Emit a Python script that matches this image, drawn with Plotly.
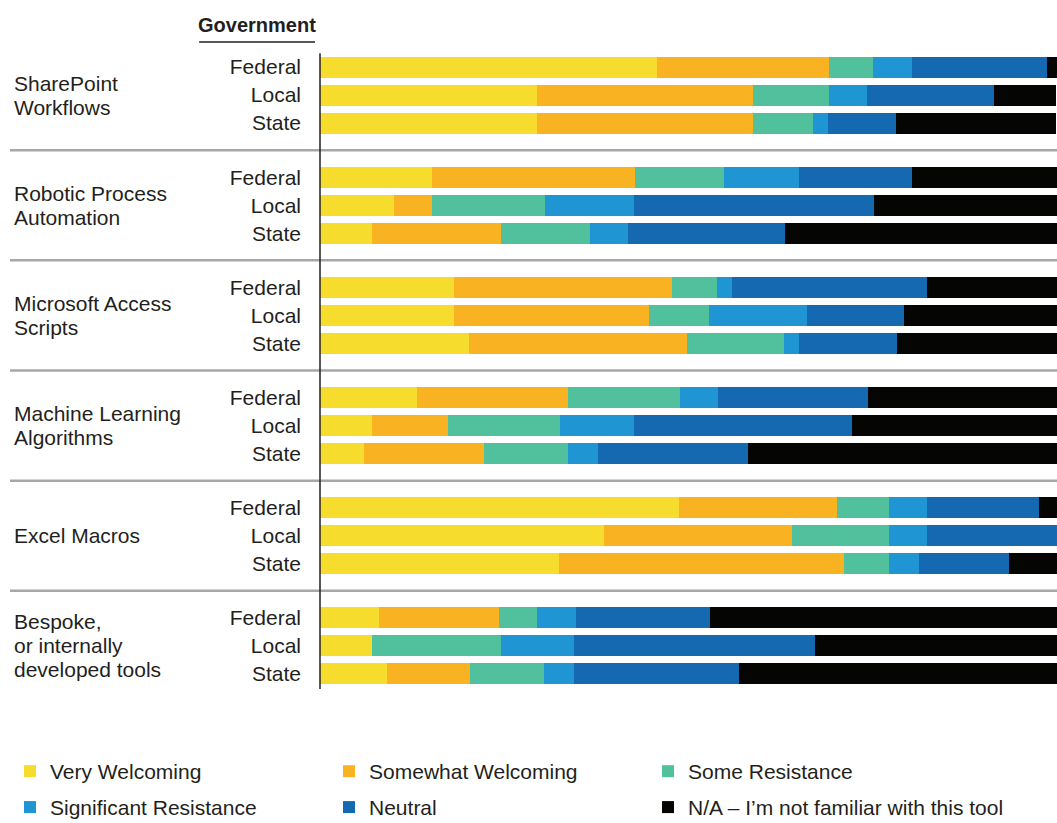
import plotly.graph_objects as go
from plotly.subplots import make_subplots

# ---------------- data ----------------
tools = [
    ["SharePoint", "Workflows"],
    ["Robotic Process", "Automation"],
    ["Microsoft Access", "Scripts"],
    ["Machine Learning", "Algorithms"],
    ["Excel Macros"],
    ["Bespoke,", "or internally", "developed tools"],
]
governments = ["Federal", "Local", "State"]

responses = [
    "Very Welcoming",
    "Somewhat Welcoming",
    "Some Resistance",
    "Significant Resistance",
    "Neutral",
    "N/A – I’m not familiar with this tool",
]

# values in percent, ordered tool by tool (Federal, Local, State)
very_welcoming = [45.7, 29.4, 29.4, 15.2, 10.0, 7.1, 18.2, 18.2, 20.2,
                  13.2, 7.1, 6.0, 48.7, 38.5, 32.4, 8.0, 7.1, 9.1]
somewhat_welcoming = [23.3, 29.4, 29.4, 27.5, 5.2, 17.4, 29.6, 26.5, 29.6,
                      20.4, 10.2, 16.3, 21.4, 25.5, 38.7, 16.3, 0.0, 11.3]
some_resistance = [6.1, 10.2, 8.1, 12.1, 15.3, 12.1, 6.1, 8.1, 13.2,
                   15.2, 15.3, 11.3, 7.1, 13.2, 6.1, 5.2, 17.4, 10.0]
significant_resistance = [5.2, 5.2, 2.0, 10.2, 12.1, 5.2, 2.0, 13.3, 2.0,
                          5.2, 10.0, 4.1, 5.2, 5.2, 4.1, 5.2, 10.0, 4.1]
neutral = [18.3, 17.2, 9.2, 15.3, 32.6, 21.3, 26.5, 13.2, 13.3,
           20.4, 29.6, 20.4, 15.2, 17.6, 12.2, 18.2, 32.6, 22.4]
not_familiar = [1.4, 8.5, 21.7, 19.7, 24.8, 37.0, 17.6, 20.8, 21.7,
                25.8, 27.8, 42.1, 2.4, 0.0, 6.5, 47.2, 33.0, 43.1]

series = [very_welcoming, somewhat_welcoming, some_resistance,
          significant_resistance, neutral, not_familiar]
colors = ["#F6DC2D", "#F8B222", "#50C19C", "#1F96D3", "#1569B1", "#050504"]

# ---------------- figure ----------------
TEXT = "#231f20"
FONT = "Liberation Sans, Arial, sans-serif"
LINE_H = 24
n = len(tools)

fig = make_subplots(rows=n, cols=1, shared_xaxes=True, vertical_spacing=0)

for t in range(n):
    for s, (name, vals, col) in enumerate(zip(responses, series, colors)):
        fig.add_trace(
            go.Bar(
                x=vals[3 * t:3 * t + 3],
                y=governments,
                orientation="h",
                name=name,
                marker=dict(color=col, line=dict(width=0)),
                width=0.75,
                legendgroup=name,
                showlegend=(t == 0),
                legend="legend" if s < 3 else "legend2",
                legendwidth=340 if s == len(responses) - 1 else None,
                hovertemplate="%{y}: %{x:.1f}%<extra>" + name + "</extra>",
            ),
            row=t + 1, col=1,
        )
    lines = tools[t]
    k = len(lines)
    for i, line in enumerate(lines):
        fig.add_annotation(
            text=line, xref="paper", x=-0.418, xanchor="left",
            yref=f"y{'' if t == 0 else t + 1}", y="Local", yanchor="middle",
            yshift=((k - 1) / 2 - i) * LINE_H,
            showarrow=False, align="left",
            font=dict(family=FONT, size=21, color=TEXT),
        )

for t in range(n):
    fig.update_yaxes(
        type="category", categoryorder="array", categoryarray=governments,
        range=[2.965, -0.965], ticks="", ticklabelstandoff=18,
        showgrid=False, zeroline=False, showline=False,
        tickfont=dict(family=FONT, size=21, color=TEXT),
        row=t + 1, col=1,
    )
    fig.update_xaxes(range=[0, 100], visible=False, row=t + 1, col=1)

# group separators
for t in range(1, n):
    fig.add_shape(type="line", xref="paper", x0=-0.4206, x1=1,
                  yref=f"y{t + 1} domain", y0=1, y1=1,
                  line=dict(color="#A7A7AA", width=2.5))

# vertical axis line
fig.add_shape(type="line", xref="paper", x0=0, x1=0, yref="paper",
              y0=0.018, y1=0.980, line=dict(color=TEXT, width=1.5))

# header
fig.add_annotation(text="<b>Government</b>", xref="paper", x=-0.0855,
                   xanchor="center", yref="paper", y=1.0227, yanchor="middle",
                   showarrow=False, font=dict(family=FONT, size=20, color=TEXT))
fig.add_shape(type="line", xref="paper", x0=-0.164, x1=-0.0068,
              yref="paper", y0=0.997, y1=0.997,
              line=dict(color=TEXT, width=1.5))

legend_common = dict(
    orientation="h", xanchor="left", yanchor="top", x=-0.4206,
    entrywidth=274, entrywidthmode="pixels",
    font=dict(family=FONT, size=21, color=TEXT),
    bgcolor="rgba(0,0,0,0)", traceorder="normal",
)

fig.update_layout(
    width=1057, height=823,
    margin=dict(l=320, r=0, t=40, b=122, autoexpand=False),
    barmode="stack", bargap=0.25,
    plot_bgcolor="white", paper_bgcolor="white",
    font=dict(family=FONT, color=TEXT),
    legend=dict(y=-0.0757, **legend_common),
    legend2=dict(y=-0.130, **legend_common),
)

fig.write_html("out.html",
               config={"displayModeBar": False},
               post_script="document.body.style.margin='0';document.body.style.overflow='hidden';")
